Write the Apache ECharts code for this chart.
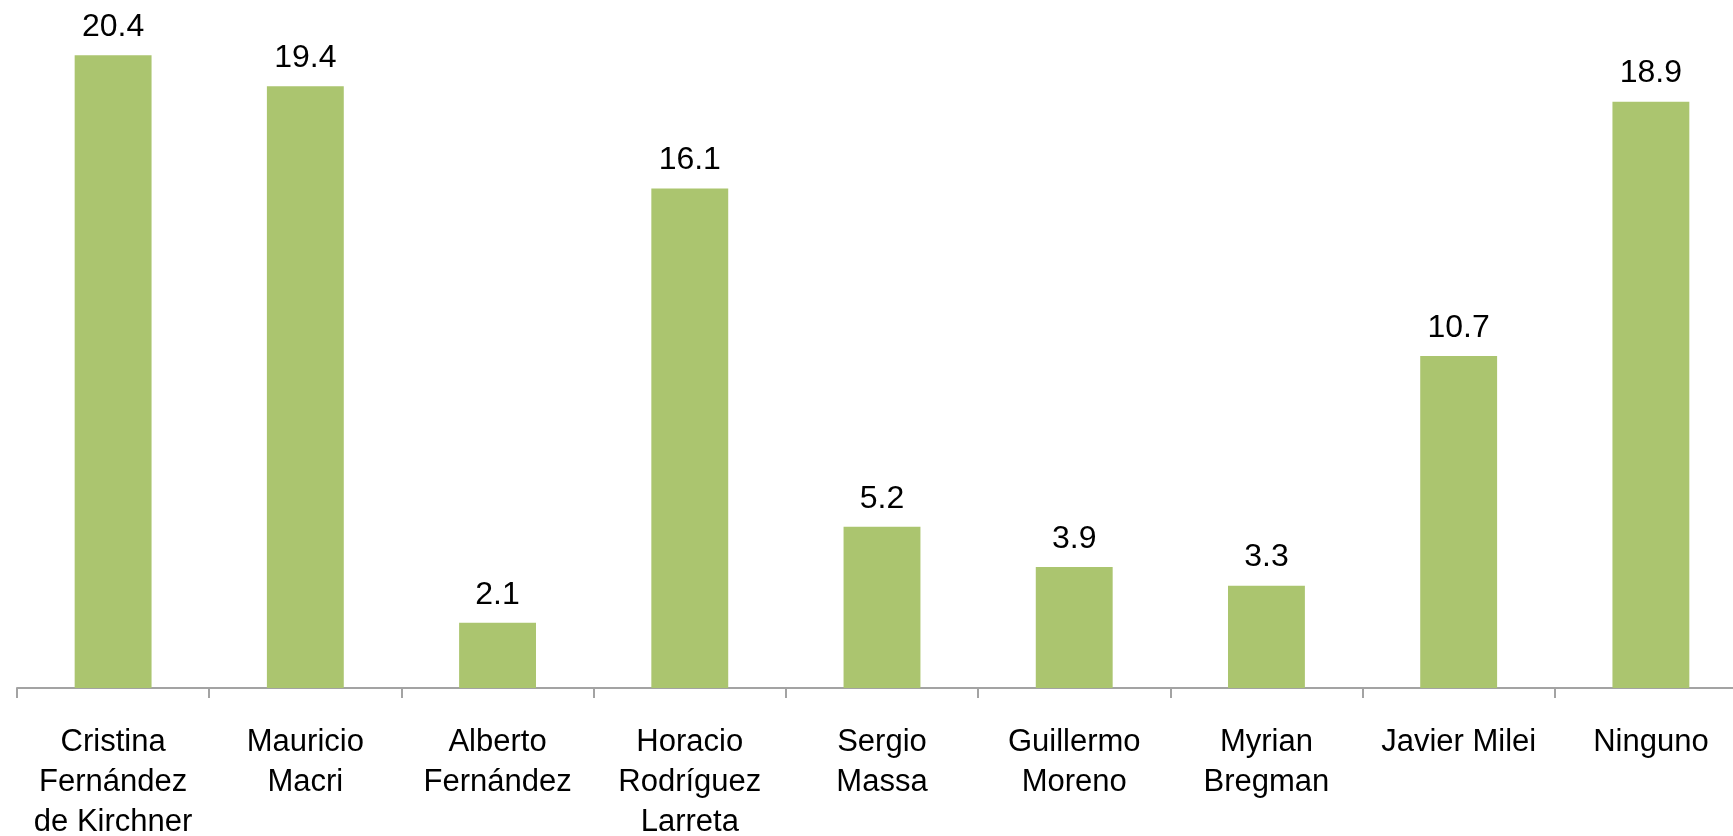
<!DOCTYPE html>
<html>
<head>
<meta charset="utf-8">
<script src="https://cdn.jsdelivr.net/npm/echarts@6/dist/echarts.min.js"></script>
<style>
html,body{margin:0;padding:0;background:#fff;overflow:hidden;}
#chart{width:1733px;height:836px;}
</style>
</head>
<body>
<div id="chart"></div>
<script>
const categories = [
  "Cristina\nFernández\nde Kirchner",
  "Mauricio\nMacri",
  "Alberto\nFernández",
  "Horacio\nRodríguez\nLarreta",
  "Sergio\nMassa",
  "Guillermo\nMoreno",
  "Myrian\nBregman",
  "Javier Milei",
  "Ninguno"
];
const values = [20.4, 19.4, 2.1, 16.1, 5.2, 3.9, 3.3, 10.7, 18.9];

const FONT = "'Liberation Sans', Arial, Helvetica, sans-serif";
const chart = echarts.init(document.getElementById('chart'), null, {renderer: 'canvas'});
chart.setOption({
  animation: false,
  backgroundColor: '#ffffff',
  grid: {left: 17, width: 1730, top: 5.5, height: 682.5, containLabel: false, outerBoundsMode: 'none'},
  xAxis: {
    type: 'category',
    data: categories,
    boundaryGap: true,
    axisLine: {show: true, lineStyle: {color: '#a3a3a3', width: 2}},
    axisTick: {show: true, length: 10, alignWithLabel: false, lineStyle: {color: '#a3a3a3', width: 2}},
    axisLabel: {
      interval: 0,
      margin: 34,
      color: '#000',
      fontFamily: FONT,
      fontSize: 31,
      lineHeight: 40
    },
    splitLine: {show: false}
  },
  yAxis: {
    type: 'value',
    min: 0,
    max: 22,
    show: false,
    splitLine: {show: false}
  },
  series: [{
    type: 'bar',
    data: values,
    barCategoryGap: '60%',
    itemStyle: {color: '#abc56f'},
    label: {
      show: true,
      position: 'top',
      distance: 12,
      color: '#000',
      fontFamily: FONT,
      fontSize: 32,
      formatter: p => p.value.toFixed(1)
    }
  }]
});
</script>
</body>
</html>
